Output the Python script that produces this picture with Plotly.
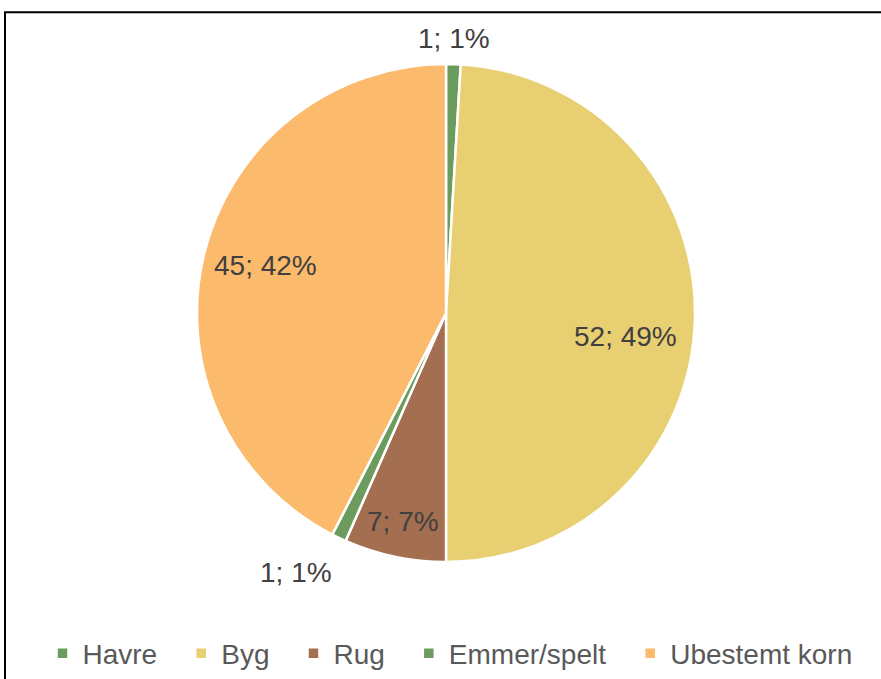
import math
import plotly.graph_objects as go

# Grain types and counts
categories = ["Havre", "Byg", "Rug", "Emmer/spelt", "Ubestemt korn"]
counts = [1, 52, 7, 1, 45]

colors = ["#6b9c5d", "#e8cf72", "#a46e51", "#6b9c5d", "#fbba6c"]
# label placement: radius as a fraction of the pie radius, plus an angular nudge (deg)
label_radius = [1.11, 0.73, 0.86, 1.21, 0.75]
label_nudge = [0.0, 5.9, -0.2, 4.4, 1.4]

W, H = 881, 679
M_L, M_R, M_T, M_B = 0, 0, 64, 114
PW, PH = W - M_L - M_R, H - M_T - M_B
DOM_X = [0.0125, 1.0]

fig = go.Figure(go.Pie(
    labels=categories,
    values=counts,
    sort=False,
    direction="clockwise",
    rotation=0,
    marker=dict(colors=colors, line=dict(color="white", width=2.5)),
    textinfo="none",
    hoverinfo="label+value+percent",
    domain=dict(x=DOM_X, y=[0, 1]),
))

# pie geometry in pixels
cx = M_L + PW * (DOM_X[0] + DOM_X[1]) / 2
cy = M_T + PH / 2
R = min(PW * (DOM_X[1] - DOM_X[0]), PH) / 2 - 2

total = sum(counts)
start = 0.0
for val, rf, nudge in zip(counts, label_radius, label_nudge):
    span = 360.0 * val / total
    ang = math.radians(start + span / 2 + nudge)
    start += span
    px = cx + rf * R * math.sin(ang)
    py = cy - rf * R * math.cos(ang)
    pct = round(100.0 * val / total)
    fig.add_annotation(
        x=(px - M_L) / PW, y=(M_T + PH - py) / PH,
        xref="paper", yref="paper",
        text=f"{val}; {pct}%",
        showarrow=False,
        xanchor="center", yanchor="middle",
        font=dict(family="Liberation Sans, Arial, sans-serif", size=28, color="#404040"),
    )

# chart frame
fig.add_shape(
    type="rect", xref="paper", yref="paper",
    x0=(5 - M_L) / PW, x1=(W + 20 - M_L) / PW,
    y0=(M_T + PH - (H + 20)) / PH, y1=(M_T + PH - 12) / PH,
    line=dict(color="black", width=2), fillcolor="rgba(0,0,0,0)",
)

fig.update_layout(
    width=W, height=H,
    margin=dict(l=M_L, r=M_R, t=M_T, b=M_B),
    paper_bgcolor="white",
    plot_bgcolor="white",
    showlegend=True,
    legend=dict(
        orientation="h",
        x=0.5, xanchor="center",
        y=(M_T + PH - 657) / PH, yanchor="middle",
        font=dict(family="Liberation Sans, Arial, sans-serif", size=28, color="#595959"),
        bgcolor="rgba(0,0,0,0)",
        indentation=19,
        traceorder="normal",
    ),
)

fig.write_html("out.html")
